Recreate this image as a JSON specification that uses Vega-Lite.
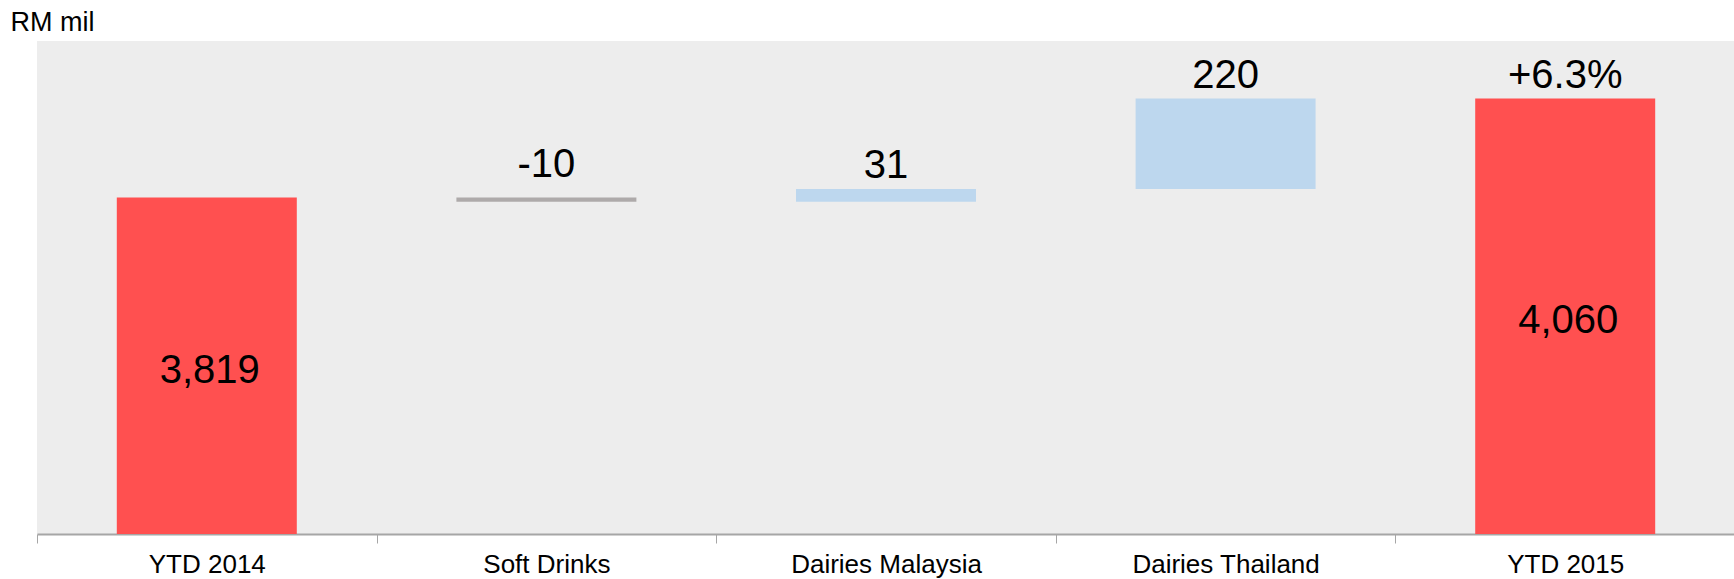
{
  "$schema": "https://vega.github.io/schema/vega-lite/v6.json",
  "width": 1698,
  "height": 493,
  "autosize": "none",
  "padding": {"left": 37, "top": 41, "right": 0, "bottom": 45},
  "background": "white",
  "config": {
    "view": {"stroke": null, "fill": "#ededed"},
    "font": "Liberation Sans"
  },
  "data": {
    "values": [
      {"category": "YTD 2014", "kind": "total", "low": 0, "high": 3819, "top_label": null, "inner_label": "3,819"},
      {"category": "Soft Drinks", "kind": "decrease", "low": 3809, "high": 3819, "top_label": "-10", "inner_label": null},
      {"category": "Dairies Malaysia", "kind": "increase", "low": 3809, "high": 3840, "top_label": "31", "inner_label": null},
      {"category": "Dairies Thailand", "kind": "increase", "low": 3840, "high": 4060, "top_label": "220", "inner_label": null},
      {"category": "YTD 2015", "kind": "total", "low": 0, "high": 4060, "top_label": "+6.3%", "inner_label": "4,060"}
    ]
  },
  "encoding": {
    "x": {
      "field": "category",
      "type": "nominal",
      "sort": null,
      "scale": {"paddingInner": 0, "paddingOuter": 0},
      "axis": {
        "title": null,
        "labelAngle": 0,
        "labelFontSize": 26,
        "labelColor": "black",
        "labelFont": "Liberation Sans",
        "labelPadding": 8,
        "labelLimit": 0,
        "tickSize": 9,
        "tickColor": "#a6a6a6",
        "tickBand": "extent",
        "domainColor": "#a6a6a6",
        "domainWidth": 2,
        "grid": false
      }
    }
  },
  "layer": [
    {
      "mark": {"type": "bar", "width": {"band": 0.53}, "clip": true},
      "encoding": {
        "y": {
          "field": "low",
          "type": "quantitative",
          "scale": {"domain": [3000, 4200], "nice": false, "zero": false},
          "axis": {
            "labels": false,
            "ticks": false,
            "domain": false,
            "grid": false,
            "title": "RM mil",
            "titleAngle": 0,
            "titleX": -27,
            "titleY": -11,
            "titleAlign": "left",
            "titleBaseline": "alphabetic",
            "titleFontSize": 27,
            "titleFontWeight": "normal",
            "titleFont": "Liberation Sans",
            "titleColor": "black"
          }
        },
        "y2": {"field": "high"},
        "color": {
          "field": "kind",
          "type": "nominal",
          "scale": {"domain": ["total", "decrease", "increase"], "range": ["#ff5050", "#aeaaaa", "#bdd7ee"]},
          "legend": null
        }
      }
    },
    {
      "transform": [{"filter": "datum.top_label != null && datum.kind != 'decrease'"}],
      "mark": {"type": "text", "fontSize": 40, "baseline": "alphabetic", "dy": -11, "color": "black", "font": "Liberation Sans"},
      "encoding": {
        "y": {"field": "high", "type": "quantitative", "scale": {"domain": [3000, 4200], "nice": false, "zero": false}, "axis": null},
        "text": {"field": "top_label"}
      }
    },
    {
      "transform": [{"filter": "datum.top_label != null && datum.kind == 'decrease'"}],
      "mark": {"type": "text", "fontSize": 40, "baseline": "alphabetic", "dy": -21, "color": "black", "font": "Liberation Sans"},
      "encoding": {
        "y": {"field": "high", "type": "quantitative", "scale": {"domain": [3000, 4200], "nice": false, "zero": false}, "axis": null},
        "text": {"field": "top_label"}
      }
    },
    {
      "transform": [{"filter": "datum.inner_label != null"}],
      "mark": {"type": "text", "fontSize": 40, "baseline": "middle", "dx": 3, "dy": 5, "color": "black", "font": "Liberation Sans"},
      "encoding": {
        "y": {"field": "high", "type": "quantitative", "scale": {"domain": [3000, 5400], "nice": false, "zero": false}, "axis": null},
        "text": {"field": "inner_label"}
      }
    }
  ],
  "resolve": {"scale": {"y": "independent"}}
}
